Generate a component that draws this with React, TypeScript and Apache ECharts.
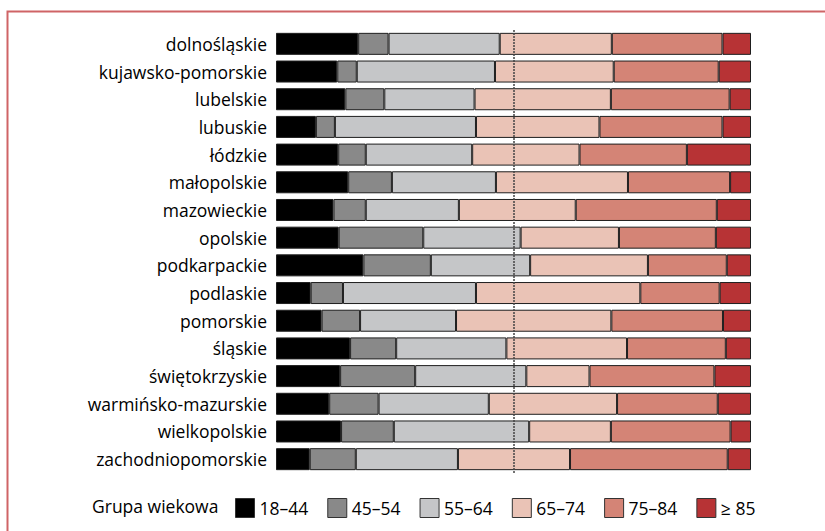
import React, { useEffect, useRef } from "react";
import * as echarts from "echarts";

const regions = [
  "dolnośląskie",
  "kujawsko-pomorskie",
  "lubelskie",
  "lubuskie",
  "łódzkie",
  "małopolskie",
  "mazowieckie",
  "opolskie",
  "podkarpackie",
  "podlaskie",
  "pomorskie",
  "śląskie",
  "świętokrzyskie",
  "warmińsko-mazurskie",
  "wielkopolskie",
  "zachodniopomorskie",
];

const groupNames = ["18–44", "45–54", "55–64", "65–74", "75–84", "≥ 85"];

const g18_44 = [17.3, 12.9, 14.6, 8.4, 13.1, 15.2, 12.1, 13.2, 18.4, 7.3, 9.6, 15.6, 13.5, 11.2, 13.7, 7.1];
const g45_54 = [6.4, 4.1, 8.2, 4.0, 5.8, 9.2, 6.8, 17.8, 14.2, 6.8, 8.1, 9.7, 15.8, 10.4, 11.1, 9.7];
const g55_64 = [23.4, 29.1, 19.0, 29.7, 22.4, 21.9, 19.6, 20.5, 20.9, 28.0, 20.2, 23.2, 23.4, 23.2, 28.5, 21.5];
const g65_74 = [23.6, 25.0, 28.7, 26.0, 22.6, 27.8, 24.6, 20.7, 24.8, 34.6, 32.7, 25.4, 13.3, 27.0, 17.2, 23.6];
const g75_84 = [23.3, 22.1, 25.0, 25.9, 22.6, 21.5, 29.7, 20.4, 16.6, 16.7, 23.5, 20.8, 26.3, 21.2, 25.2, 33.2];
const g85 = [6.0, 6.8, 4.5, 6.0, 13.5, 4.4, 7.2, 7.4, 5.1, 6.6, 5.9, 5.3, 7.7, 7.0, 4.3, 4.9];

const groupValues = [g18_44, g45_54, g55_64, g65_74, g75_84, g85];
const groupColors = ["#000000", "#898989", "#c5c6c8", "#eac3b6", "#d48476", "#b73335"];

const FONT = "'Open Sans', 'Noto Sans', sans-serif";

export default function App() {
  const ref = useRef<HTMLDivElement>(null);

  useEffect(() => {
    if (!ref.current) return;
    const chart = echarts.init(ref.current, undefined, { renderer: "svg" });

    const series: any[] = groupNames.map((name, i) => ({
      name,
      type: "bar",
      stack: "total",
      barWidth: 22,
      data: groupValues[i],
      itemStyle: {
        color: groupColors[i],
        borderColor: "#1e1e1e",
        borderWidth: 1,
      },
      emphasis: { disabled: true },
      markLine:
        i === 0
          ? {
              silent: true,
              symbol: "none",
              label: { show: false },
              lineStyle: { color: "#444", type: [2, 1], width: 1.5 },
              data: [{ xAxis: 50 }],
              z: 10,
            }
          : undefined,
    }));

    chart.setOption({
      animation: false,
      textStyle: { fontFamily: FONT },
      title: {
        text: "Grupa wiekowa",
        left: 92,
        top: 497,
        padding: 0,
        textStyle: { fontSize: 17.5, fontWeight: "normal", color: "#000", fontFamily: FONT },
      },
      legend: {
        left: 235,
        top: 498,
        padding: 0,
        itemWidth: 19,
        itemHeight: 19,
        itemGap: 19,
        icon: "rect",
        textStyle: { fontSize: 17.5, color: "#000", fontFamily: FONT },
        itemStyle: { borderColor: "#333", borderWidth: 1 },
        data: groupNames,
      },
      grid: { left: 276, right: 74, top: 30, height: 443, containLabel: false },
      xAxis: {
        type: "value",
        min: 0,
        max: 100,
        show: false,
      },
      yAxis: {
        type: "category",
        inverse: true,
        data: regions,
        axisLine: { show: false },
        axisTick: { show: false },
        axisLabel: { fontSize: 17.5, color: "#000", margin: 9, fontFamily: FONT },
      },
      graphic: [
        {
          type: "rect",
          shape: { x: 7.5, y: 11.5, width: 900, height: 600 },
          style: { fill: "none", stroke: "#cf6466", lineWidth: 2 },
          silent: true,
        },
      ],
      series,
    });

    return () => chart.dispose();
  }, []);

  return (
    <div
      ref={ref}
      style={{ position: "fixed", left: 0, top: 0, width: 825, height: 531, background: "#fff" }}
    />
  );
}
